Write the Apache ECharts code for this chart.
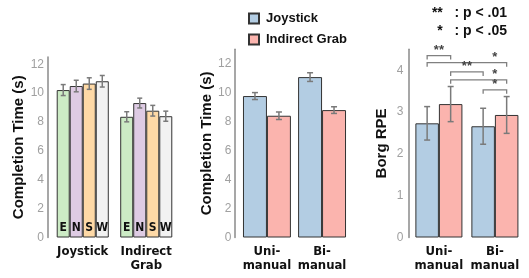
<!DOCTYPE html>
<html><head><meta charset="utf-8">
<script src="https://cdn.jsdelivr.net/npm/echarts@6/dist/echarts.min.js"></script>
<style>html,body{margin:0;padding:0;background:#fff}#c{width:529px;height:278px}</style>
</head><body><div id="c"></div>
<script>
// ---- data ----
const ctCats = ['Joystick', 'Indirect\nGrab'];
const dirNames = ['E', 'N', 'S', 'W'];
const ctE = [10.21, 8.36];
const ctN = [10.49, 9.31];
const ctS = [10.66, 8.78];
const ctW = [10.82, 8.40];
const ctErrE = [0.38, 0.35];
const ctErrN = [0.40, 0.34];
const ctErrS = [0.40, 0.37];
const ctErrW = [0.40, 0.35];

const modeCats = ['Uni-\nmanual', 'Bi-\nmanual'];
const mtJoy = [9.77, 11.08];
const mtInd = [8.41, 8.80];
const mtJoyErr = [0.24, 0.30];
const mtIndErr = [0.26, 0.23];

const rpeJoy = [2.73, 2.66];
const rpeInd = [3.19, 2.93];
const rpeJoyErr = [0.40, 0.43];
const rpeIndErr = [0.42, 0.44];

// significance brackets (bar index: 0=Uni Joy,1=Uni Ind,2=Bi Joy,3=Bi Ind)
const sigBars = [[0, 1], [0, 3], [1, 2], [1, 3], [2, 3]];
const sigLevel = [4.35, 4.18, 3.96, 3.77, 3.53];
const sigMark = ['**', '*', '**', '*', '*'];
const sigLabelBars = [[0, 1], [2, 3], [1, 2], [2, 3], [2, 3]];

const yTicks1 = [0, 12.5, 2];
const yTicks2 = [0, 13, 2];
const yTicks3 = [0, 4.5, 1];

// ---- styles ----
const dirColors = ['#ccebc5', '#decbe4', '#fed9a6', '#f2f2f2'];
const joyColor = '#b3cde3', indColor = '#fbb4ae';
const catFont = '"Liberation Sans Narrow", "DejaVu Sans Condensed", sans-serif';
const titleFont = '"Liberation Sans", Arial, sans-serif';
const gaps = [0.18, 0.13, 0.16];

function barX(api, cat, k, n, gap) {
  const c = api.coord([cat, 0]);
  const w = api.size([1, 0])[0];
  const total = w * (1 - gap);
  const bw = total / n;
  return c[0] - total / 2 + (k + 0.5) * bw;
}
function errSeries(gi, vals, errs, k, n, cap) {
  return {
    type: 'custom', name: 'err' + gi + '_' + k, xAxisIndex: gi, yAxisIndex: gi, z: 5,
    data: vals.map((v, i) => [i, v, errs[i]]),
    renderItem: function (params, api) {
      const cat = api.value(0), v = api.value(1), e = api.value(2);
      const x = barX(api, cat, k, n, gaps[gi]);
      const yt = api.coord([cat, v + e])[1], yb = api.coord([cat, v - e])[1];
      const st = { stroke: '#7a7a7a', lineWidth: 1.5, fill: null };
      return { type: 'group', children: [
        { type: 'line', shape: { x1: x, y1: yt, x2: x, y2: yb }, style: st },
        { type: 'line', shape: { x1: x - cap, y1: yt, x2: x + cap, y2: yt }, style: st },
        { type: 'line', shape: { x1: x - cap, y1: yb, x2: x + cap, y2: yb }, style: st }
      ]};
    }
  };
}
function barSeries(gi, name, vals, color, label) {
  const s = {
    type: 'bar', name: name, xAxisIndex: gi, yAxisIndex: gi, data: vals,
    barGap: 0, barCategoryGap: (gaps[gi] * 100) + '%',
    itemStyle: { color: color, borderColor: '#333', borderWidth: 1 },
    emphasis: { disabled: true }
  };
  if (label) {
    s.label = { show: true, position: 'insideBottom', distance: 4, formatter: label,
      fontFamily: catFont, fontWeight: 'bold', fontSize: 12, color: '#111' };
  }
  return s;
}
function yAxis(gi, ticks, name, offset, gap, margin) {
  return {
    type: 'value', gridIndex: gi, min: ticks[0], max: ticks[1], interval: ticks[2], offset: offset,
    name: name, nameLocation: 'middle', nameGap: gap,
    nameTextStyle: { fontFamily: titleFont, fontWeight: 'bold', fontSize: 15, color: '#111' },
    axisLine: { show: true, lineStyle: { color: '#8a8a8a', width: 1.5 } },
    axisTick: { show: false }, splitLine: { show: false },
    axisLabel: { color: '#a0a0a0', fontSize: 12, margin: margin, showMaxLabel: ticks[1] % ticks[2] === 0,
      fontFamily: titleFont }
  };
}
function xAxis(gi, cats) {
  return {
    type: 'category', gridIndex: gi, data: cats,
    axisLine: { show: false }, axisTick: { show: false },
    axisLabel: { interval: 0, color: '#111', fontFamily: catFont, fontWeight: 'bold', fontSize: 13,
      lineHeight: 14, margin: 7 }
  };
}

const series = [];
const ctVals = [ctE, ctN, ctS, ctW], ctErrs = [ctErrE, ctErrN, ctErrS, ctErrW];
dirNames.forEach((d, k) => series.push(barSeries(0, d, ctVals[k], dirColors[k], d)));
dirNames.forEach((d, k) => series.push(errSeries(0, ctVals[k], ctErrs[k], k, 4, 2.5)));
series.push(barSeries(1, 'Joystick', mtJoy, joyColor));
series.push(barSeries(1, 'Indirect Grab', mtInd, indColor));
series.push(errSeries(1, mtJoy, mtJoyErr, 0, 2, 3));
series.push(errSeries(1, mtInd, mtIndErr, 1, 2, 3));
series.push(barSeries(2, 'Joystick', rpeJoy, joyColor));
series.push(barSeries(2, 'Indirect Grab', rpeInd, indColor));
series.push(errSeries(2, rpeJoy, rpeJoyErr, 0, 2, 3));
series.push(errSeries(2, rpeInd, rpeIndErr, 1, 2, 3));
series.push({
  type: 'custom', name: 'sig', xAxisIndex: 2, yAxisIndex: 2, z: 6,
  data: sigLevel.map((l, i) => [sigBars[i][0], sigBars[i][1], l]),
  renderItem: function (params, api) {
    const i = params.dataIndex;
    const bx = b => barX(api, Math.floor(b / 2), b % 2, 2, gaps[2]);
    const x1 = bx(api.value(0)), x2 = bx(api.value(1));
    const y = api.coord([0, api.value(2)])[1];
    const leg = 4;
    const lx = (bx(sigLabelBars[i][0]) + bx(sigLabelBars[i][1])) / 2;
    return { type: 'group', children: [
      { type: 'polyline', shape: { points: [[x1, y + leg], [x1, y], [x2, y], [x2, y + leg]] },
        style: { stroke: '#808080', lineWidth: 1.3, fill: null } },
      { type: 'text', x: lx, y: y + 1,
        style: { text: sigMark[i], textAlign: 'center', textVerticalAlign: 'bottom',
          fill: '#444', fontSize: 13, fontFamily: titleFont, fontWeight: 'bold' } }
    ]};
  }
});

const chart = echarts.init(document.getElementById('c'), null, { renderer: 'canvas' });
chart.setOption({
  animation: false,
  grid: [
    { left: 51, width: 127, top: 57, bottom: 40.5 },
    { left: 239.4, width: 110.2, top: 49.3, bottom: 40.5 },
    { left: 410.9, width: 112, top: 49.3, bottom: 40.5 }
  ],
  xAxis: [xAxis(0, ctCats), xAxis(1, modeCats), xAxis(2, modeCats)],
  yAxis: [
    yAxis(0, yTicks1, 'Completion Time (s)', 3, 15, 4),
    yAxis(1, yTicks2, 'Completion Time (s)', 5, 17, 3),
    yAxis(2, yTicks3, 'Borg RPE', 2.6, 19, 5)
  ],
  legend: {
    data: ['Joystick', 'Indirect Grab'], orient: 'vertical', left: 243, top: 7,
    itemWidth: 10, itemHeight: 10, itemGap: 8, icon: 'rect',
    textStyle: { fontFamily: titleFont, fontWeight: 'bold', fontSize: 13, color: '#111', padding: [0, 0, 0, 2] },
    selectedMode: false
  },
  graphic: [
    { type: 'text', x: 507, y: 13, style: { text: '**   : p < .01', textAlign: 'right', textVerticalAlign: 'middle',
      fontFamily: titleFont, fontWeight: 'bold', fontSize: 14, fill: '#111' } },
    { type: 'text', x: 507, y: 31, style: { text: '*   : p < .05', textAlign: 'right', textVerticalAlign: 'middle',
      fontFamily: titleFont, fontWeight: 'bold', fontSize: 14, fill: '#111' } }
  ],
  series: series
});
</script></body></html>
